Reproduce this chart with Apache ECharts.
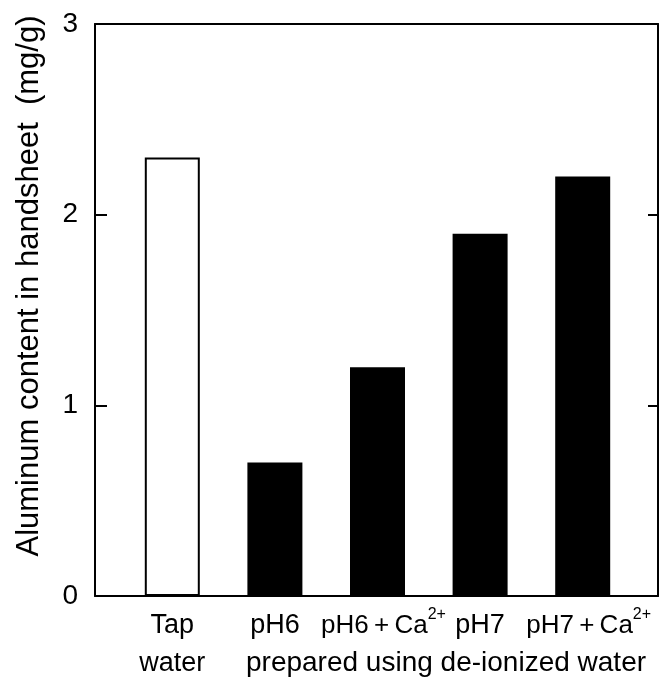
<!DOCTYPE html>
<html>
<head>
<meta charset="utf-8">
<script src="https://cdn.jsdelivr.net/npm/echarts@6/dist/echarts.min.js"></script>
<style>
  html, body { margin: 0; padding: 0; background: #fff; }
  #chart { width: 660px; height: 678px; }
</style>
</head>
<body>
<div id="chart"></div>
<script>
// data
var categories = ['Tap\nwater', 'pH6', 'pH6\u2009+\u2009Ca', 'pH7', 'pH7\u2009+\u2009Ca'];
var superscripts = ['', '', '2+', '', '2+'];
var aluminum = [2.3, 0.7, 1.2, 1.9, 2.2];
var yTicks = [0, 1, 2, 3];
var groupLabel = 'prepared using de-ionized water';
var yName = 'Aluminum content in handsheet  (mg/g)';

var FONT = '"Liberation Sans", Arial, sans-serif';

var chart = echarts.init(document.getElementById('chart'));

// bar styles: tap water open, de-ionized filled
var barData = aluminum.map(function (v, i) {
    return {
        value: v,
        itemStyle: i === 0
            ? { color: '#fff', borderColor: '#000', borderWidth: 2 }
            : { color: '#000' }
    };
});

var option = {
    animation: false,
    backgroundColor: '#fff',
    textStyle: { fontFamily: FONT, color: '#000' },
    title: {
        text: groupLabel,
        left: 246,
        top: 649,
        padding: 0,
        textStyle: { fontFamily: FONT, fontSize: 28, fontWeight: 'normal', color: '#000' }
    },
    grid: [
        // frame
        { left: 95, right: 2, top: 24, bottom: 82, outerBoundsMode: 'none' },
        // bars
        { left: 121, right: 26, top: 24, bottom: 82, outerBoundsMode: 'none' }
    ],
    xAxis: [
        {
            gridIndex: 0, type: 'value', min: 0, max: 1, position: 'bottom',
            axisLine: { show: true, onZero: false, lineStyle: { color: '#000', width: 2 } },
            axisTick: { show: false }, axisLabel: { show: false }, splitLine: { show: false }
        },
        {
            gridIndex: 0, type: 'value', min: 0, max: 1, position: 'top',
            axisLine: { show: true, onZero: false, lineStyle: { color: '#000', width: 2 } },
            axisTick: { show: false }, axisLabel: { show: false }, splitLine: { show: false }
        },
        {
            gridIndex: 1, type: 'category', data: categories,
            axisLine: { show: false }, axisTick: { show: false },
            axisLabel: {
                margin: 11,
                interval: 0,
                fontFamily: FONT,
                fontSize: 27,
                lineHeight: 38,
                color: '#000',
                formatter: function (val, idx) {
                    var sup = superscripts[idx];
                    return sup ? '{a|' + val + '}{s|' + sup + '}' : val;
                },
                rich: {
                    a: { fontFamily: FONT, fontSize: 26, lineHeight: 38, color: '#000', padding: [0, 0, 0, 12] },
                    s: { fontFamily: FONT, fontSize: 16, lineHeight: 38, verticalAlign: 'top', color: '#000', padding: [0, 0, 14, 0] }
                }
            }
        }
    ],
    yAxis: [
        {
            gridIndex: 0, type: 'value', min: 0, max: 3, interval: 1, position: 'left',
            name: yName, nameLocation: 'middle', nameGap: 50,
            nameTextStyle: { fontFamily: FONT, fontSize: 31, color: '#000', padding: [0, 0, 0, 48] },
            axisLine: { show: true, onZero: false, lineStyle: { color: '#000', width: 2 } },
            axisTick: { show: true, inside: true, length: 12, lineStyle: { color: '#000', width: 2 } },
            axisLabel: {
                margin: 17, fontFamily: FONT, fontSize: 28, color: '#000',
                formatter: function (v) { return yTicks.indexOf(v) >= 0 ? String(v) : ''; }
            },
            splitLine: { show: false }
        },
        {
            gridIndex: 0, type: 'value', min: 0, max: 3, interval: 1, position: 'right',
            axisLine: { show: true, onZero: false, lineStyle: { color: '#000', width: 2 } },
            axisTick: { show: true, inside: true, length: 10, lineStyle: { color: '#000', width: 2 } },
            axisLabel: { show: false },
            splitLine: { show: false }
        },
        {
            gridIndex: 1, type: 'value', min: 0, max: 3, show: false
        }
    ],
    series: [
        {
            type: 'bar',
            xAxisIndex: 2,
            yAxisIndex: 2,
            barWidth: 55,
            data: barData
        }
    ]
};

chart.setOption(option);
</script>
</body>
</html>
